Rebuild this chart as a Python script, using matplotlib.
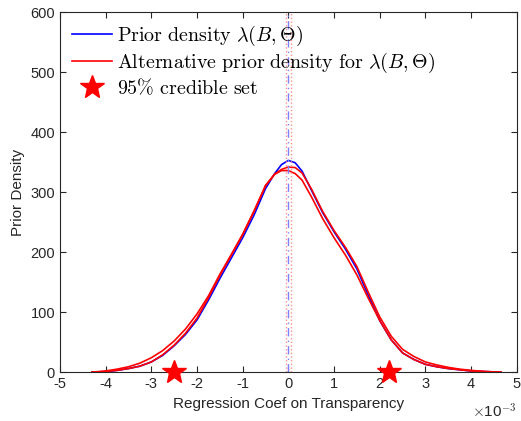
import matplotlib
matplotlib.use("Agg")
import matplotlib.pyplot as plt

plt.rcParams['font.family'] = ['Liberation Sans', 'DejaVu Sans']
plt.rcParams['mathtext.fontset'] = 'cm'
plt.rcParams['axes.unicode_minus'] = False

# x in units of 1e-3
coef = [-4.3, -4.0, -3.75, -3.5, -3.25, -3.0, -2.75, -2.5, -2.25, -2.0,
        -1.75, -1.5, -1.25, -1.0, -0.75, -0.5, -0.3, -0.15, 0.0, 0.15,
        0.3, 0.5, 0.75, 1.0, 1.25, 1.5, 1.75, 2.0, 2.25, 2.5,
        2.75, 3.0, 3.25, 3.5, 3.75, 4.0, 4.3, 4.65]
prior = [0, 1, 3, 6, 10, 17, 28, 44, 63, 87,
         120, 156, 190, 224, 262, 306, 331, 346, 353, 349,
         335, 304, 266, 234, 205, 172, 128, 86, 54, 32,
         21, 13, 9, 6, 4, 2, 1, 0]
alt_prior_a = [0, 1, 3, 6, 10, 17, 29, 45, 65, 90,
               124, 161, 195, 229, 268, 311, 330, 338, 342, 341,
               332, 306, 268, 236, 208, 176, 133, 92, 60, 38,
               26, 17, 12, 8, 5, 3, 1, 0]
alt_prior_b = [0, 2, 5, 9, 15, 24, 36, 52, 72, 97,
               127, 163, 196, 230, 269, 311, 330, 336, 336, 331,
               320, 293, 256, 224, 195, 162, 123, 86, 54, 32,
               21, 13, 9, 6, 4, 2, 1, 0]
credible_set = [-2.5, 2.2]
center_prior = 0.0
center_alt = [-0.05, 0.06]

fig = plt.figure(figsize=(5.21, 4.21), dpi=100)
ax = fig.add_axes([0.115, 0.116, 0.877, 0.855])

ax.plot(coef, prior, color='blue', lw=1.2, label=r'$\mathrm{Prior\ density}\ \lambda(B,\Theta)$')
ax.plot(coef, alt_prior_a, color='red', lw=1.2,
        label=r'$\mathrm{Alternative\ prior\ density\ for}\ \lambda(B,\Theta)$')
ax.plot(coef, alt_prior_b, color='red', lw=1.2)
ax.plot(credible_set, [0, 0], ls='none', marker='*', ms=18, color='red',
        clip_on=False, zorder=5, label=r'$\mathrm{95\%\ credible\ set}$')

ax.axvline(center_prior, color='#8080ff', ls=(0, (6, 3, 1, 3)), lw=1.0)
for c in center_alt:
    ax.axvline(c, color='#ff9090', ls=':', lw=1.0)

ax.set_xlim(-5, 5)
ax.set_ylim(0, 600)
ax.set_xticks(range(-5, 6))
ax.set_yticks(range(0, 601, 100))
ax.tick_params(direction='in', top=True, right=True, labelsize=10.5,
               colors='#262626', length=4)
for s in ax.spines.values():
    s.set_color('#262626')
    s.set_linewidth(0.8)

ax.set_xlabel('Regression Coef on Transparency', fontsize=11, color='#262626')
ax.set_ylabel('Prior Density', fontsize=11, color='#262626')
ax.text(1.0, -0.085, r'$\times$10$^{-3}$', transform=ax.transAxes,
        ha='right', va='top', fontsize=11, color='#262626',
        family='Liberation Sans')

ax.legend(loc='upper left', frameon=False, fontsize=14.4, handlelength=2.0,
          handletextpad=0.25, borderaxespad=0.2, labelspacing=0.12)

fig.savefig('out.png', dpi=100)
